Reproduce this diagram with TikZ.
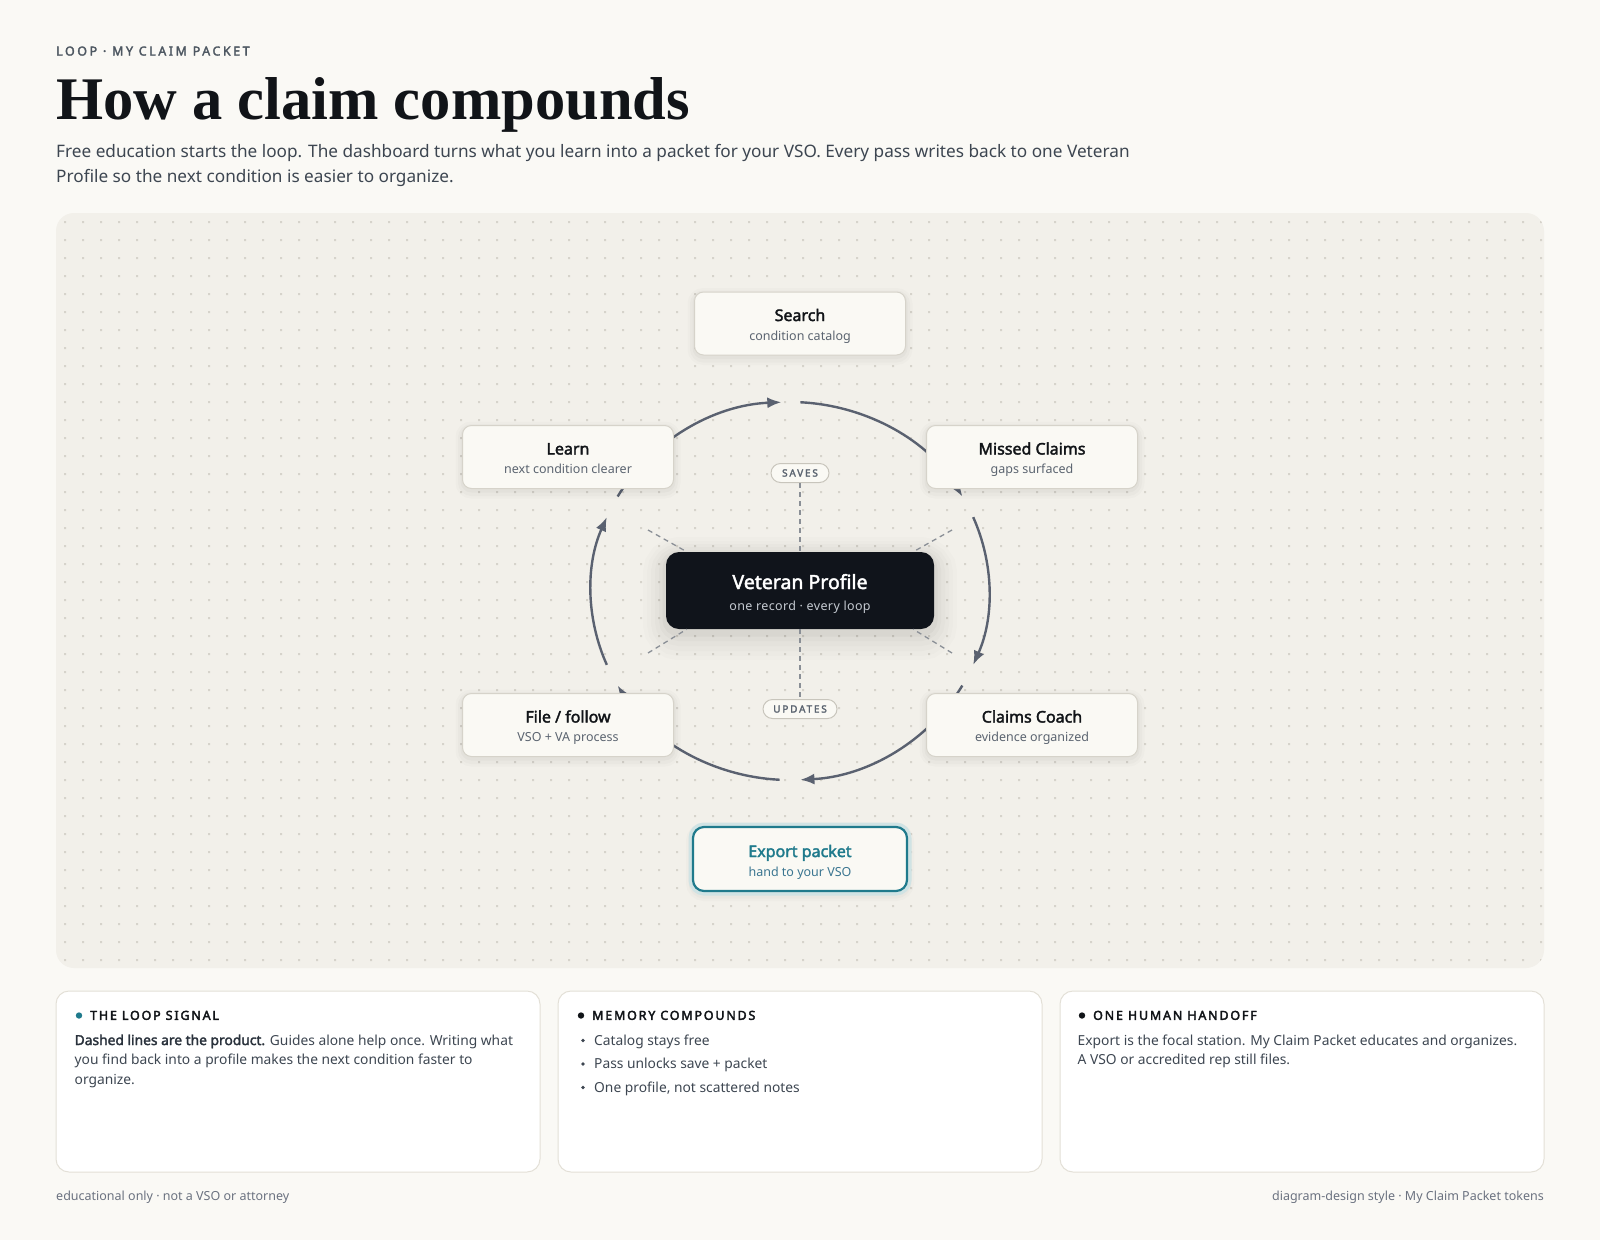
\documentclass[tikz,border=0pt]{standalone}
\usepackage{fontspec}
\setmainfont{Noto Sans}[AutoFakeBold=2.2]
\newfontfamily\serifttl{Liberation Serif}
\newfontfamily\trackfont{Noto Sans}[LetterSpace=21, AutoFakeBold=2.6]
\newfontfamily\headfont{Noto Sans}[LetterSpace=15, AutoFakeBold=3]
\newfontfamily\pillfont{Noto Sans}[LetterSpace=18, AutoFakeBold=2.4]
\newfontfamily\subtrack{Noto Sans}[LetterSpace=3]
\usetikzlibrary{calc,arrows.meta}
\newcommand\fsz[1]{\fontsize{#1}{#1}\selectfont}
\definecolor{pagebg}{HTML}{FAF9F5}
\definecolor{panelbg}{HTML}{F2F0EA}
\definecolor{dotc}{HTML}{D6D3CB}
\definecolor{ink}{HTML}{111418}
\definecolor{slate}{HTML}{3D4651}
\definecolor{muted}{HTML}{5B6470}
\definecolor{kick}{HTML}{4E5862}
\definecolor{nodefill}{HTML}{FAF9F4}
\definecolor{nodeline}{HTML}{D6D3CA}
\definecolor{arcc}{HTML}{5A6170}
\definecolor{dashc}{HTML}{8A8F96}
\definecolor{darkn}{HTML}{10141B}
\definecolor{subdark}{HTML}{C5CAD1}
\definecolor{teal}{HTML}{1F7A8C}
\definecolor{tealsub}{HTML}{3A7590}
\definecolor{tealhalo}{HTML}{D0E3E4}
\definecolor{cardline}{HTML}{E3E0D7}
\definecolor{pillline}{HTML}{C8C5BC}
\definecolor{foot}{HTML}{6B7280}
\definecolor{boldbody}{HTML}{2A323C}
\tikzset{
  softshadow/.style={
    preaction={draw=black, draw opacity=0.015, line width=14pt, transform canvas={yshift=-3pt}},
    preaction={draw=black, draw opacity=0.02, line width=9pt, transform canvas={yshift=-3pt}},
    preaction={draw=black, draw opacity=0.025, line width=4pt, transform canvas={yshift=-2pt}}},
  bigshadow/.style={
    preaction={draw=black, draw opacity=0.010, line width=46pt, transform canvas={yshift=-8pt}},
    preaction={draw=black, draw opacity=0.012, line width=38pt, transform canvas={yshift=-8pt}},
    preaction={draw=black, draw opacity=0.014, line width=30pt, transform canvas={yshift=-7pt}},
    preaction={draw=black, draw opacity=0.016, line width=22pt, transform canvas={yshift=-6pt}},
    preaction={draw=black, draw opacity=0.02, line width=14pt, transform canvas={yshift=-5pt}},
    preaction={draw=black, draw opacity=0.03, line width=7pt, transform canvas={yshift=-4pt}}},
  stationbox/.style={softshadow, draw=nodeline, line width=1pt, fill=nodefill, rounded corners=9pt,
    minimum width=211pt, minimum height=63pt, inner sep=0pt},
  profilebox/.style={bigshadow, fill=darkn, rounded corners=13pt,
    minimum width=268pt, minimum height=77pt, inner sep=0pt},
  exportbox/.style={softshadow, preaction={draw=tealhalo, line width=9pt}, draw=teal, line width=2.2pt,
    fill=nodefill, rounded corners=11pt, minimum width=214pt, minimum height=64pt, inner sep=0pt},
  ttl/.style={anchor=base, inner sep=0pt, font=\bfseries\fsz{16}, text=ink},
  sub/.style={anchor=base, inner sep=0pt, font=\fsz{12.5}, text=muted},
  pill/.style={draw=pillline, line width=1pt, fill=nodefill, rounded corners=9.5pt, minimum height=19pt,
    inner sep=0pt, font=\pillfont\bfseries\fsz{10}, text=muted},
  looparc/.style={draw=arcc, line width=2.4pt, -{Latex[length=14pt,width=11pt]}},
  dashline/.style={draw=dashc, line width=1.3pt, dash pattern=on 5pt off 4pt},
  card/.style={draw=cardline, line width=1pt, fill=white, rounded corners=13pt,
    minimum width=484pt, minimum height=181pt, inner sep=0pt},
  cardhead/.style={anchor=base west, inner sep=0pt, font=\headfont\bfseries\fsz{12.4}, text=ink},
  body/.style={anchor=base west, inner sep=0pt, font=\fsz{13.8}, text=slate},
  footer/.style={inner sep=0pt, font=\fsz{12.5}, text=foot},
}
\begin{document}
\begin{tikzpicture}[x=1pt, y=-1pt]
\fill[pagebg] (0,0) rectangle (1600,1240);
\useasboundingbox (0,0) rectangle (1600,1240);

% header
\node[anchor=base west, inner sep=0pt, font=\trackfont\bfseries\fsz{12.4}, text=kick] (kicker) at (56,55.5) {LOOP · MY CLAIM PACKET};
\node[anchor=base west, inner sep=0pt, font=\serifttl\bfseries\fsz{60.5}, text=ink] (title) at (56,119.5) {How a claim compounds};
\node[anchor=base west, inner sep=0pt, font=\fsz{17.2}, text=slate] (sub1) at (56,157) {Free education starts the loop. The dashboard turns what you learn into a packet for your VSO. Every pass writes back to one Veteran};
\node[anchor=base west, inner sep=0pt, font=\fsz{17.2}, text=slate] (sub2) at (56,182.5) {Profile so the next condition is easier to organize.};

% panel with dot grid
\fill[panelbg, rounded corners=18pt] (56,213) rectangle (1544,968);
\begin{scope}
\clip[rounded corners=18pt] (56,213) rectangle (1544,968);
\fill[dotc] \foreach \i in {0,...,82}{\foreach \j in {0,...,41}{ (64+18*\i,221+18*\j) rectangle ++(2,2) }};
\end{scope}

% loop arcs
\coordinate (loopc) at (790,591);
\draw[looparc] (loopc) ++(-150:199 and 189) arc[start angle=-150, end angle=-92.5, x radius=199, y radius=189];
\draw[looparc] (loopc) ++(-87:199 and 189) arc[start angle=-87, end angle=-30, x radius=199, y radius=189];
\draw[looparc] (loopc) ++(-23:199 and 189) arc[start angle=-23, end angle=23, x radius=199, y radius=189];
\draw[looparc] (loopc) ++(30:199 and 189) arc[start angle=30, end angle=87, x radius=199, y radius=189];
\draw[looparc] (loopc) ++(93:199 and 189) arc[start angle=93, end angle=150, x radius=199, y radius=189];
\draw[looparc] (loopc) ++(157:199 and 189) arc[start angle=157, end angle=203, x radius=199, y radius=189];

% diagonal dashed spokes
\coordinate (dul) at (648,530);
\coordinate (dll) at (648,653);
\coordinate (dur) at (952,530);
\coordinate (dlr) at (952,653);

% stations
\node[stationbox] (search) at (800,323.5) {};
\node[ttl] (searcht) at ($(search.center)+(0,-2.5)$) {Search};
\node[sub] (searchs) at ($(search.center)+(0,16.5)$) {condition catalog};

\node[stationbox] (learn) at (568,457) {};
\node[ttl] (learnt) at ($(learn.center)+(0,-2.5)$) {Learn};
\node[sub] (learns) at ($(learn.center)+(0,16.5)$) {next condition clearer};

\node[stationbox] (missed) at (1032,457) {};
\node[ttl] (missedt) at ($(missed.center)+(0,-2.5)$) {Missed Claims};
\node[sub] (misseds) at ($(missed.center)+(0,16.5)$) {gaps surfaced};

\node[stationbox] (file) at (568,725) {};
\node[ttl] (filet) at ($(file.center)+(0,-2.5)$) {File / follow};
\node[sub] (files) at ($(file.center)+(0,16.5)$) {VSO + VA process};

\node[stationbox] (coach) at (1032,725) {};
\node[ttl] (coacht) at ($(coach.center)+(0,-2.5)$) {Claims Coach};
\node[sub] (coachs) at ($(coach.center)+(0,16.5)$) {evidence organized};

% profile
\node[profilebox] (profile) at (800,590.5) {};
\node[anchor=base, inner sep=0pt, font=\bfseries\fsz{19.5}, text=white] (profilet) at ($(profile.center)+(0,-1.5)$) {Veteran Profile};
\node[anchor=base, inner sep=0pt, font=\subtrack\fsz{12.5}, text=subdark] (profiles) at ($(profile.center)+(0,19.5)$) {one record · every loop};

% labels and dashed links
\node[pill, minimum width=58pt] (saves) at (800,473) {SAVES};
\node[pill, minimum width=74pt] (updates) at (800,709) {UPDATES};
\draw[dashline] (saves.south) -- (profile.north);
\draw[dashline] (profile.south) -- (updates.north);
\draw[dashline] (dul) -- ($(profile.north west)+(21,0)$);
\draw[dashline] (dll) -- ($(profile.south west)+(21,0)$);
\draw[dashline] (dur) -- ($(profile.north east)+(-21,0)$);
\draw[dashline] (dlr) -- ($(profile.south east)+(-21,0)$);

% export
\node[exportbox] (export) at (800,859) {};
\node[anchor=base, inner sep=0pt, font=\bfseries\fsz{16}, text=teal] (exportt) at ($(export.center)+(0,-2)$) {Export packet};
\node[anchor=base, inner sep=0pt, font=\fsz{12.5}, text=tealsub] (exports) at ($(export.center)+(0,17)$) {hand to your VSO};

% cards
\node[card] (card1) at (298,1081.5) {};
\node[card] (card2) at (800,1081.5) {};
\node[card] (card3) at (1302,1081.5) {};

\fill[teal] (79,1015.5) circle (3.2);
\node[cardhead] (h1) at (90,1019.8) {THE LOOP SIGNAL};
\node[body] (b11) at (74.5,1045) {\textcolor{boldbody}{\bfseries Dashed lines are the product.} Guides alone help once. Writing what};
\node[body] (b12) at (74.5,1064.5) {you find back into a profile makes the next condition faster to};
\node[body] (b13) at (74.5,1084) {organize.};

\fill[ink] (581,1015.5) circle (3.2);
\node[cardhead] (h2) at (592,1019.8) {MEMORY COMPOUNDS};
\fill[slate] (583,1040.5) circle (1.8);
\node[body] (b21) at (594,1045) {Catalog stays free};
\fill[slate] (583,1064) circle (1.8);
\node[body] (b22) at (594,1068.5) {Pass unlocks save + packet};
\fill[slate] (583,1087.5) circle (1.8);
\node[body] (b23) at (594,1092) {One profile, not scattered notes};

\fill[ink] (1082,1015.5) circle (3.2);
\node[cardhead] (h3) at (1093,1019.8) {ONE HUMAN HANDOFF};
\node[body] (b31) at (1077.5,1045) {Export is the focal station. My Claim Packet educates and organizes.};
\node[body] (b32) at (1077.5,1064.5) {A VSO or accredited rep still files.};

% footer
\node[footer, anchor=base west] (footl) at (56,1200) {educational only · not a VSO or attorney};
\node[footer, anchor=base east] (footr) at (1544,1200) {diagram-design style · My Claim Packet tokens};
\end{tikzpicture}
\end{document}
